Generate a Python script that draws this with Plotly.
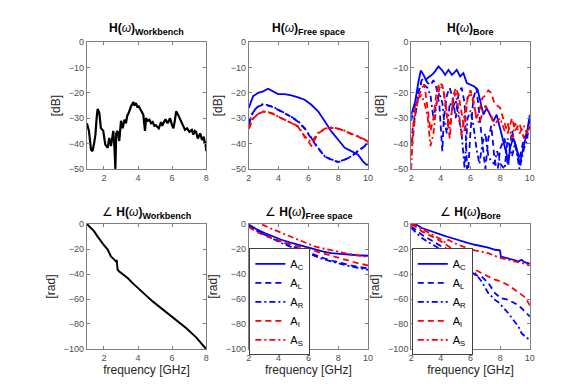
import plotly.graph_objects as go

# ---------------- data ----------------
# Workbench magnitude [dB]
wb_mag_f = [1.0, 1.12, 1.24, 1.33, 1.42, 1.50, 1.57, 1.63, 1.73, 1.82, 1.96, 2.08, 2.22, 2.31, 2.41, 2.48, 2.55,
            2.62, 2.67, 2.72, 2.80, 2.90, 3.0, 3.1, 3.2, 3.29, 3.37, 3.45, 3.59, 3.73, 3.80, 3.88, 3.96, 4.04, 4.18,
            4.31, 4.41, 4.47, 4.57, 4.67, 4.77, 4.86, 4.96, 5.06, 5.14, 5.22, 5.35, 5.42, 5.49, 5.61, 5.74, 5.88,
            6.0, 6.08, 6.16, 6.24, 6.35, 6.49, 6.63, 6.76, 6.88, 7.02, 7.16, 7.25, 7.33, 7.41, 7.51, 7.65, 7.76,
            7.86, 7.92, 7.96, 8.0]
wb_mag = [-32, -35, -42.4, -43, -40, -36.5, -30, -26.3, -28, -33.9, -35, -40.4, -41.7, -37.8, -41, -38, -35,
          -42, -50, -36, -35, -39, -31, -34, -30.6, -32, -29, -28, -25.3, -23.6, -25, -24, -25.5, -25.3, -27.3,
          -28.6, -35, -30, -31, -30.6, -32, -31.5, -33, -32.8, -33.5, -34, -31.5, -33, -32, -30.4, -32, -30,
          -32.8, -34, -31, -27.3, -28.6, -30.6, -33.3, -34.6, -34, -35.4, -34.6, -36.5, -35, -35.4, -38, -36,
          -38.6, -37.3, -40, -39, -43]

# Workbench phase [rad]
wb_ph_f = [1.0, 1.2, 1.43, 1.6, 1.82, 2.0, 2.22, 2.41, 2.61, 2.71, 2.75, 2.80, 2.9, 3.10, 3.39, 3.7, 4.08, 4.5,
           4.86, 5.3, 5.84, 6.3, 6.82, 7.4, 8.0]
wb_ph = [0, -2.5, -5.9, -9.5, -13.9, -17, -20.5, -25.9, -28.5, -30, -28.8, -36.5, -38, -40, -43.2, -47.5,
         -52.5, -57.5, -61.9, -66.8, -72.5, -77.5, -83.2, -90.5, -100]

# Free space magnitude [dB]
fs_f = [2.0, 2.29, 2.63, 2.96, 3.3, 3.63, 3.97, 4.41, 4.86, 5.31, 5.75, 6.2, 6.65, 7.1, 7.54, 8.0, 8.44, 8.88,
        9.33, 9.66, 9.89, 10.0]
fs_mag_C = [-26, -21.3, -20, -19.4, -18.4, -19.4, -20.5, -20.5, -21, -21.8, -22.7, -24.7, -27.3, -31.2, -35.2,
            -38.5, -41.7, -43, -44.4, -47, -48.3, -48.3]
fs_mag_L = [-32.5, -27.6, -25.5, -24.6, -25.0, -25.6, -26.7, -28.0, -29.5, -31.4, -34.1, -38.0, -41.9, -45.1,
            -46.4, -47.3, -46.4, -45.1, -43.1, -41.8, -40.6, -40.0]
fs_mag_R = [-31.9, -27.3, -25.3, -24.4, -24.9, -25.5, -26.6, -27.9, -29.4, -31.2, -33.9, -37.8, -41.7, -45,
            -46.3, -47.2, -46.3, -45, -43, -41.6, -40.4, -39.8]
fs_mag_I = [-34.2, -30.1, -28.4, -27.4, -27.7, -28.3, -29.4, -30.6, -31.9, -33.4, -37.4, -40.9, -36.0, -34.3,
            -33.8, -34.2, -35.0, -36.3, -37.2, -38.3, -38.9, -39.2]
fs_mag_S = [-33.9, -29.9, -28.3, -27.3, -27.6, -28.2, -29.3, -30.5, -31.8, -33.2, -37.1, -39.5, -35.8, -34.1,
            -33.6, -34.1, -34.9, -36.2, -37.1, -38.2, -38.8, -39.1]

# Free space phase [rad]
fs_ph_f = [2.0, 2.5, 3.07, 3.6, 4.19, 4.75, 5.31, 5.9, 6.42, 7.0, 7.54, 8.1, 8.66, 9.3, 10.0]
fs_ph_C = [-0.5, -4.0, -7.2, -10.0, -12.6, -14.7, -16.6, -18.7, -20.6, -22.1, -23.3, -24.0, -24.6, -25.0, -25.4]
fs_ph_L = [-1.0, -4.9, -8.2, -11.5, -14.4, -17.0, -19.6, -22.4, -24.9, -27.2, -29.2, -31.0, -32.6, -34.2, -35.6]
fs_ph_R = [-1.3, -5.2, -8.6, -12.0, -15.2, -18.0, -20.6, -23.4, -25.9, -28.1, -30.0, -31.8, -33.4, -35.0, -36.6]
fs_ph_I = [-2.4, -6.2, -9.4, -11.8, -13.9, -16.0, -17.9, -19.9, -21.9, -24.0, -25.9, -27.7, -29.4, -31.3, -33.2]
fs_ph_S = [3.0, 1.2, -1.3, -4.2, -7.2, -9.9, -12.6, -15.4, -17.9, -19.6, -21.1, -22.5, -23.8, -25.1, -26.5]

# Bore magnitude [dB]
bo_f_C = [2.0, 2.27, 2.49, 2.65, 2.83, 2.99, 3.13, 3.28, 3.45, 3.61, 3.84, 4.06, 4.29, 4.51, 4.74, 4.9, 5.07,
          5.3, 5.52, 5.75, 5.97, 6.26, 6.48, 6.64, 6.87, 7.09, 7.31, 7.54, 7.76, 8.0, 8.21, 8.44, 8.55, 8.66,
          8.88, 9.1, 9.33, 9.55, 9.78, 10.0]
bo_mag_C = [-28.6, -23.4, -15.5, -11.2, -12.9, -14.8, -14.0, -13.5, -12.6, -11.5, -9.6, -10.9, -12.9, -10.9,
            -12.9, -12.0, -10.9, -13.5, -12.2, -16.1, -16.8, -17.5, -18.8, -23.4, -28.6, -26, -28.6, -31.2,
            -28.6, -33.9, -39.1, -44.4, -48.3, -41.7, -37.8, -41.7, -48.3, -41.7, -36.5, -28.6]
bo_f = [2.0, 2.1, 2.3, 2.5, 2.7, 2.9, 3.1, 3.3, 3.5, 3.7, 3.9, 4.0, 4.1, 4.2, 4.4, 4.6, 4.8, 5.0, 5.2, 5.4,
        5.6, 5.7, 5.8, 6.0, 6.2, 6.4, 6.6, 6.8, 7.0, 7.2, 7.4, 7.6, 7.8, 8.0, 8.3, 8.5, 8.8, 9.0, 9.3, 9.6,
        9.8, 10.0]
bo_mag_L = [-40, -34, -28, -20, -15, -14, -16, -17, -15, -18, -25, -35, -43, -30, -21, -18, -22, -30, -20, -18,
            -24, -40, -55, -35, -22, -18, -30, -40, -50, -38, -33, -45, -52, -42, -38, -48, -35, -40, -46, -38,
            -36, -33]
bo_mag_R = [-31, -28, -24, -19, -16, -17, -18, -21, -30, -24, -20, -22, -24, -30, -36, -24, -26, -23, -30, -36,
            -50, -40, -30, -27, -33, -42, -48, -40, -36, -45, -47, -48, -43, -48, -50, -38, -45, -40, -50, -42,
            -39, -30]
bo_mag_I = [-45, -38, -27, -22, -18, -17, -25, -35, -30, -20, -16, -16.5, -17, -20, -30, -38, -22, -18, -21,
            -28, -35, -28, -22, -19, -23, -30, -27, -22, -21, -19, -20, -24, -25, -26, -32, -36, -30, -35, -32,
            -38, -35, -34]
bo_mag_S = [-50, -35, -24, -22, -21, -24, -29, -41, -36, -25, -18, -17, -18, -20, -28, -34, -24, -20, -27,
            -37, -28, -25, -22, -20, -24, -30, -32, -28, -25, -27, -29, -33, -31, -30, -35, -32, -38, -32, -36,
            -33, -36, -32]

# Bore phase [rad]
bp_f = [2.0, 2.27, 2.72, 3.2, 3.61, 4.06, 4.3, 4.51, 5.0, 5.41, 5.63, 5.86, 6.3, 6.75, 7.2, 7.65, 7.98, 8.05,
        8.55, 9.0, 9.22, 9.44, 9.67, 10.0]
bp_C = [-0.5, 0, -3.2, -5.3, -7.2, -9.0, -9.7, -10.4, -12.3, -13.9, -14.6, -15.3, -16.6, -17.5, -18.9, -20.6,
        -21.0, -26.0, -27.3, -29.0, -30.0, -28.6, -30.7, -31.8]
bp_L = [-1.9, -4.5, -8.6, -12.0, -15.2, -18.0, -19.3, -20.6, -23.0, -25.0, -28.6, -36.6, -40.6, -42.0, -47.3,
        -55.3, -58.5, -59.4, -60.7, -63.4, -65.0, -67.4, -70.0, -74.1]
bp_R = [-3.2, -6.5, -11.2, -14.8, -17.9, -20.8, -22.0, -23.3, -28.0, -34.0, -36.0, -38.0, -39.3, -46.0, -55.3,
        -60.7, -63.5, -64.7, -71.4, -78.1, -82.0, -87.4, -90.0, -92.8]
bp_I = [-0.5, -2.0, -5.9, -8.5, -11.2, -14.3, -16.0, -17.9, -22.0, -25.9, -29.0, -32.0, -36.6, -39.5, -42.0,
        -44.5, -45.6, -46.0, -49.0, -52.7, -54.5, -56.5, -58.5, -65.0]
bp_S = [0, -1.0, -4.0, -7.2, -9.9, -12.6, -15.0, -12.6, -15.8, -17.9, -18.8, -19.7, -21.1, -22.2, -23.3, -25.5,
        -27.0, -27.3, -28.6, -30.0, -30.5, -31.0, -32.0, -33.4]

series_names = ["A<sub>C</sub>", "A<sub>L</sub>", "A<sub>R</sub>", "A<sub>I</sub>", "A<sub>S</sub>"]
series_colors = ["#0000FF", "#0000FF", "#0000FF", "#FF0000", "#FF0000"]
series_dash = ["solid", "6px,4px", "6px,3px,2px,3px", "6px,4px", "6px,3px,2px,3px"]

# ---------------- figure ----------------
fig = go.Figure()

xdoms = [[0.137, 0.344], [0.418, 0.625], [0.700, 0.906]]
ydoms = [[0.581, 0.911], [0.112, 0.4375]]

def add_line(x, y, ax, color, dash="solid", width=1.8, name=None, legend=None):
    fig.add_trace(go.Scatter(
        x=x, y=y, mode="lines", xaxis="x" + ax, yaxis="y" + ax,
        line=dict(color=color, dash=dash, width=width),
        name=name, showlegend=legend is not None, legend=legend if legend else "legend",
        hoverinfo="skip"))

# panel 1: workbench magnitude
add_line(wb_mag_f, wb_mag, "", "#000000", width=2.2)
# panel 2: free space magnitude
for i, s in enumerate([fs_mag_C, fs_mag_L, fs_mag_R, fs_mag_I, fs_mag_S]):
    add_line(fs_f, s, "2", series_colors[i], series_dash[i])
# panel 3: bore magnitude
add_line(bo_f_C, bo_mag_C, "3", series_colors[0], series_dash[0])
for i, s in enumerate([bo_mag_L, bo_mag_R, bo_mag_I, bo_mag_S]):
    add_line(bo_f, s, "3", series_colors[i + 1], series_dash[i + 1])
# panel 4: workbench phase
add_line(wb_ph_f, wb_ph, "4", "#000000", width=2.0)
# panel 5: free space phase
for i, s in enumerate([fs_ph_C, fs_ph_L, fs_ph_R, fs_ph_I, fs_ph_S]):
    add_line(fs_ph_f, s, "5", series_colors[i], series_dash[i], name=series_names[i], legend="legend")
# panel 6: bore phase
for i, s in enumerate([bp_C, bp_L, bp_R, bp_I, bp_S]):
    add_line(bp_f, s, "6", series_colors[i], series_dash[i], name=series_names[i], legend="legend2")

font_family = "Liberation Sans, Arial, sans-serif"
tick_font = dict(family=font_family, size=9, color="#4d4d4d")
title_font = dict(family=font_family, size=12, color="#262626")

def xax(dom, rng, dt, anchor, title=None):
    d = dict(domain=dom, range=rng, dtick=dt, anchor=anchor, showgrid=False, zeroline=False,
             showline=True, linecolor="#7f7f7f", linewidth=1, mirror="ticks", ticks="inside",
             ticklen=3, tickcolor="#7f7f7f", tickfont=tick_font, automargin=False, tick0=0)
    if title:
        d["title"] = dict(text=title, font=title_font, standoff=0)
    return d

def yax(dom, rng, dt, anchor, title):
    return dict(domain=dom, range=rng, dtick=dt, anchor=anchor, showgrid=False, zeroline=False,
                showline=True, linecolor="#7f7f7f", linewidth=1, mirror="ticks", ticks="inside",
                ticklen=3, tickcolor="#7f7f7f", tickfont=tick_font, automargin=False,
                title=dict(text=title, font=title_font, standoff=5))

legend_style = dict(yanchor="top", xanchor="left", bgcolor="white", bordercolor="#404040", borderwidth=1,
                    font=dict(family=font_family, size=11, color="#000000"), tracegroupgap=0, itemwidth=30)

layout = dict(
    width=576, height=384, margin=dict(l=0, r=0, t=0, b=0),
    paper_bgcolor="white", plot_bgcolor="white",
    xaxis=xax(xdoms[0], [1, 8], 2, "y"), yaxis=yax(ydoms[0], [-50, 0], 10, "x", "[dB]"),
    xaxis2=xax(xdoms[1], [2, 10], 2, "y2"), yaxis2=yax(ydoms[0], [-50, 0], 10, "x2", "[dB]"),
    xaxis3=xax(xdoms[2], [2, 10], 2, "y3"), yaxis3=yax(ydoms[0], [-50, 0], 10, "x3", "[dB]"),
    xaxis4=xax(xdoms[0], [1, 8], 2, "y4", "frequency [GHz]"), yaxis4=yax(ydoms[1], [-100, 0], 20, "x4", "[rad]"),
    xaxis5=xax(xdoms[1], [2, 10], 2, "y5", "frequency [GHz]"), yaxis5=yax(ydoms[1], [-100, 0], 20, "x5", "[rad]"),
    xaxis6=xax(xdoms[2], [2, 10], 2, "y6", "frequency [GHz]"), yaxis6=yax(ydoms[1], [-100, 0], 20, "x6", "[rad]"),
    legend=dict(x=0.419, y=0.374, **legend_style),
    legend2=dict(x=0.701, y=0.374, **legend_style),
    showlegend=True,
)
fig.update_layout(**layout)

titles_top = ["Workbench", "Free space", "Bore"]
sub_open = "<sub><span style='font-size:9px'>"
sub_close = "</span></sub>"
for i, t in enumerate(titles_top):
    cx = (xdoms[i][0] + xdoms[i][1]) / 2
    fig.add_annotation(x=cx, y=ydoms[0][1], xref="paper", yref="paper", xanchor="center", yanchor="bottom",
                       yshift=3, showarrow=False,
                       text="<b>H(</b><i>ω</i><b>)" + sub_open + t + sub_close + "</b>",
                       font=dict(family=font_family, size=12, color="#000000"))
    fig.add_annotation(x=cx, y=ydoms[1][1], xref="paper", yref="paper", xanchor="center", yanchor="bottom",
                       yshift=1, showarrow=False,
                       text="∠ <b>H(</b><i>ω</i><b>)" + sub_open + t + sub_close + "</b>",
                       font=dict(family=font_family, size=12, color="#000000"))

fig.write_html("out.html")
